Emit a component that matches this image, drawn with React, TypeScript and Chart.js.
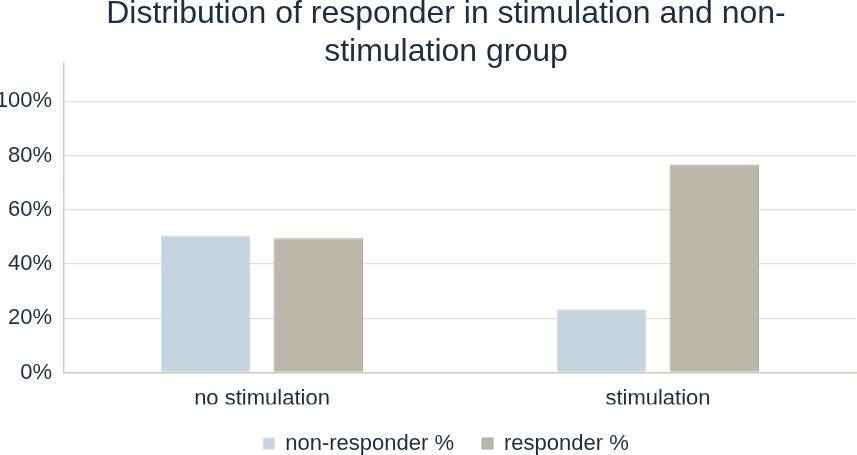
import React, { useEffect, useRef } from "react";
import { Chart, registerables } from "chart.js";

Chart.register(...registerables);

const categories = ["no stimulation", "stimulation"];
const nonResponder = [50.5, 23.3];
const responder = [49.5, 76.7];
const yTicks = [0, 20, 40, 60, 80, 100];
const titleLines = ["Distribution of responder in stimulation and non-", "stimulation group"];

const FONT = "'Liberation Sans', Arial, sans-serif";
const TEXT = "#1c2e3f";

const shiftBoxes = {
  id: "shiftBoxes",
  beforeDraw(chart: any) {
    const dx = 18;
    const boxes = [chart.titleBlock, chart.legend];
    for (const b of boxes) {
      if (b) {
        b.left = dx;
        b.right = chart.width - 1 + dx;
      }
    }
  },
};

export default function App() {
  const ref = useRef<HTMLCanvasElement | null>(null);

  useEffect(() => {
    if (!ref.current) return;
    const chart = new Chart(ref.current, {
      type: "bar",
      data: {
        labels: categories,
        datasets: [
          {
            label: "non-responder %",
            data: nonResponder,
            backgroundColor: "#c6d4e1",
            borderColor: "#d3dde7",
            borderWidth: 1,
            categoryPercentage: 0.568,
            barPercentage: 0.796,
          },
          {
            label: "responder %",
            data: responder,
            backgroundColor: "#bbb7ab",
            borderColor: "#aea99c",
            borderWidth: 1,
            categoryPercentage: 0.568,
            barPercentage: 0.796,
          },
        ],
      },
      plugins: [shiftBoxes],
      options: {
        responsive: false,
        animation: false,
        layout: { padding: { left: 0, right: 1, top: 0, bottom: -9.5 } },
        plugins: {
          title: {
            display: true,
            text: titleLines,
            color: TEXT,
            font: { family: FONT, size: 32, weight: "normal", lineHeight: 1.2 },
            padding: { top: -5, bottom: -8.6 },
          },
          legend: {
            position: "bottom",
            labels: {
              color: TEXT,
              font: { family: FONT, size: 22 },
              boxWidth: 11,
              boxHeight: 11,
              padding: 28,
            },
          },
          tooltip: { enabled: false },
        },
        scales: {
          x: {
            grid: { display: false, drawTicks: false },
            border: { display: true, color: "#cfccbf", width: 1.5 },
            ticks: { color: TEXT, font: { family: FONT, size: 22 }, padding: 13 },
            afterFit: (s: any) => {
              s.height = 32;
            },
          },
          y: {
            min: 0,
            max: 114,
            grid: { color: "#e2e0d8", lineWidth: 1.3, drawTicks: false },
            border: { display: true, color: "#cfccbf", width: 1.5 },
            ticks: {
              stepSize: 20,
              color: TEXT,
              font: { family: FONT, size: 22 },
              padding: 12,
              callback: (v: any) => v + "%",
            },
            afterBuildTicks: (s: any) => {
              s.ticks = yTicks.map((v) => ({ value: v }));
            },
            afterFit: (s: any) => {
              s.width = 64;
            },
          },
        },
      },
    });
    return () => chart.destroy();
  }, []);

  return (
    <div style={{ position: "fixed", left: 0, top: 0, width: 857, height: 455, background: "#fff" }}>
      <canvas ref={ref} width={857} height={455} style={{ display: "block" }} />
    </div>
  );
}
